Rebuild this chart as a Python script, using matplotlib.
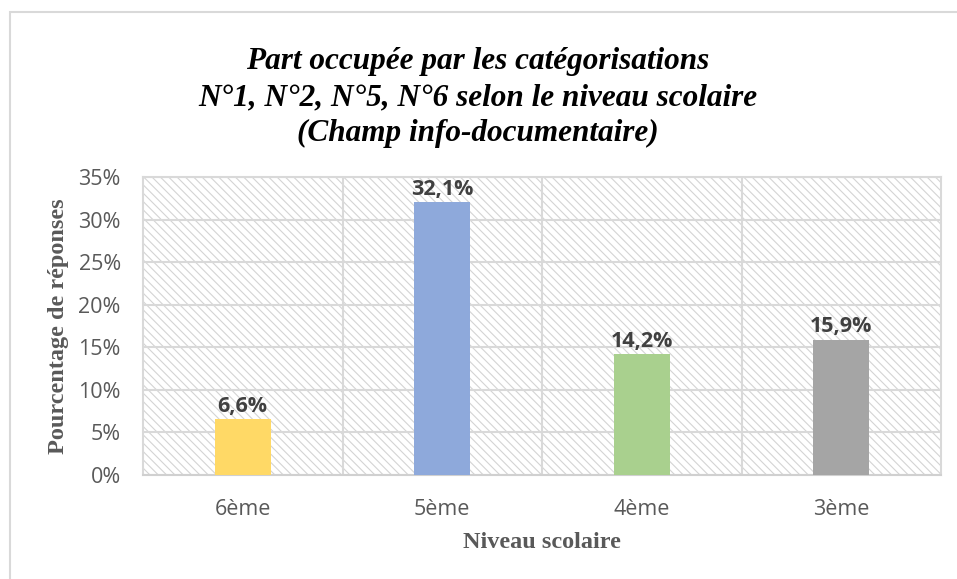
import matplotlib
matplotlib.use("Agg")
import matplotlib.pyplot as plt
from matplotlib.patches import Rectangle
from matplotlib.ticker import FuncFormatter, MultipleLocator

categories = ["6ème", "5ème", "4ème", "3ème"]
values = [6.6, 32.1, 14.2, 15.9]
labels = ["6,6%", "32,1%", "14,2%", "15,9%"]
colors = ["#FFD966", "#8EA9DB", "#A9D08E", "#A5A5A5"]
title_lines = ["Part occupée par les catégorisations",
               "N°1, N°2, N°5, N°6 selon le niveau scolaire",
               "(Champ info-documentaire)"]

plt.rcParams['hatch.color'] = '#D4D4D4'
plt.rcParams['hatch.linewidth'] = 0.8

fig = plt.figure(figsize=(9.57, 5.79), dpi=100)
# outer chart border (cropped at right/bottom)
fig.patches.append(Rectangle((9.5/957, -0.05), 1.2, (579-12)/579 + 0.05,
                             transform=fig.transFigure, fill=False,
                             edgecolor='#D9D9D9', linewidth=1.5))

ax = fig.add_axes([143/957, (579-475)/579, (941-143)/957, (475-177)/579])
x = list(range(len(categories)))
ax.set_xlim(-0.5, len(categories) - 0.5)
ax.set_ylim(0, 35)

# hatched background
ax.add_patch(Rectangle((0, 0), 1, 1, transform=ax.transAxes, facecolor='white',
                       hatch='\\\\\\\\', edgecolor='#D4D4D4', linewidth=0, zorder=0))

ax.bar(x, values, width=0.28, color=colors, zorder=3)
for xi, v, lab in zip(x, values, labels):
    ax.text(xi, v + 0.25, lab, ha='center', va='bottom', fontsize=15.5,
            fontweight='bold', color='#404040', family='Open Sans', zorder=4)

ax.yaxis.set_major_locator(MultipleLocator(5))
ax.yaxis.set_major_formatter(FuncFormatter(lambda v, p: f"{int(round(v))}%"))
ax.grid(axis='y', color='#D9D9D9', linewidth=1.5, zorder=1)
for b in [0.5, 1.5, 2.5]:
    ax.axvline(b, color='#D9D9D9', linewidth=1.5, zorder=1)

ax.set_xticks(x)
ax.set_xticklabels(categories)
ax.tick_params(axis='both', length=0, labelsize=15.5, labelcolor='#595959')
ax.tick_params(axis='x', pad=17)
ax.tick_params(axis='y', pad=16)
for lbl in ax.get_xticklabels() + ax.get_yticklabels():
    lbl.set_family('Open Sans')

for s in ['top', 'left', 'right']:
    ax.spines[s].set_color('#D9D9D9')
    ax.spines[s].set_linewidth(1.5)
ax.spines['bottom'].set_color('#D0D0D0')
ax.spines['bottom'].set_linewidth(1.5)
ax.set_axisbelow(True)

ax.set_xlabel("Niveau scolaire", family='Liberation Serif', fontweight='bold',
              fontsize=17.5, color='#595959', labelpad=9)
ax.set_ylabel("Pourcentage de réponses", family='Liberation Serif', fontweight='bold',
              fontsize=17.5, color='#595959', labelpad=7)

for i, line in enumerate(title_lines):
    fig.text(478/957, 1 - (62 + 35.5 * i) / 579, line,
             ha='center', va='center', family='Liberation Serif', style='italic',
             fontweight='bold', fontsize=22.5, color='black')

fig.savefig("out.png", dpi=100)
